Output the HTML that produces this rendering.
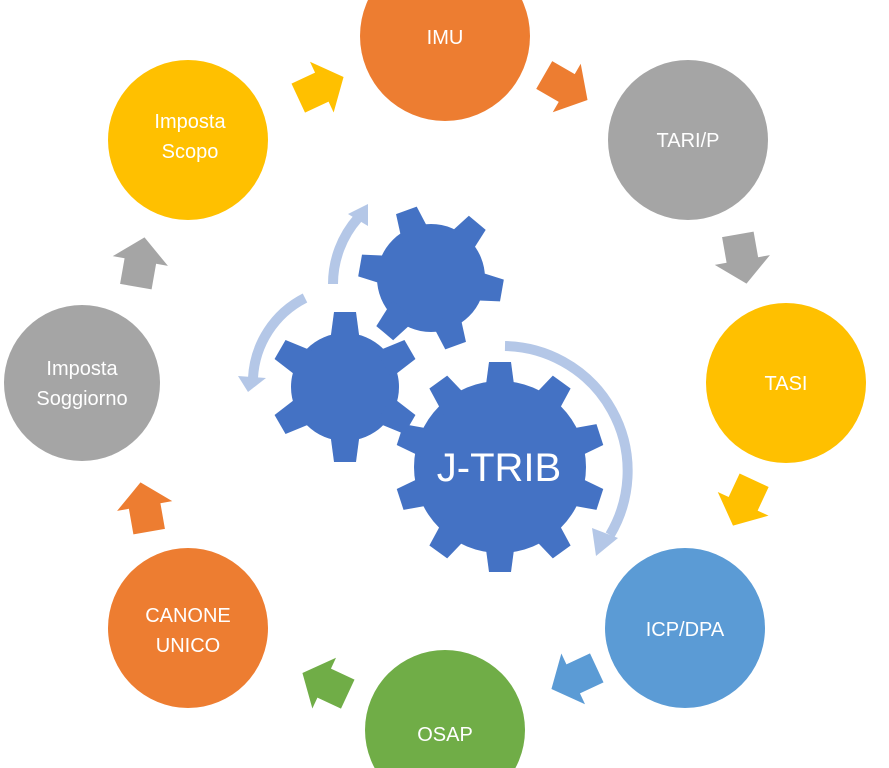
<!DOCTYPE html>
<html><head><meta charset="utf-8"><style>
html,body{margin:0;padding:0;background:#fff;width:889px;height:768px;overflow:hidden;}
svg{display:block;}
text{font-family:"Liberation Sans","DejaVu Sans",sans-serif;fill:#fff;}
</style></head><body>
<svg width="889" height="768" viewBox="0 0 889 768" xmlns="http://www.w3.org/2000/svg">
<defs>
<path id="ar" d="M-24,-16 L2,-16 L2,-28 L26,0 L2,28 L2,16 L-24,16 Z"/>
</defs>
<circle cx="445" cy="36" r="85" fill="#ED7D31"/>
<circle cx="688" cy="140" r="80" fill="#A5A5A5"/>
<circle cx="786" cy="383" r="80" fill="#FFC000"/>
<circle cx="685" cy="628" r="80" fill="#5B9BD5"/>
<circle cx="445" cy="730" r="80" fill="#70AD47"/>
<circle cx="188" cy="628" r="80" fill="#ED7D31"/>
<circle cx="82" cy="383" r="78" fill="#A5A5A5"/>
<circle cx="188" cy="140" r="80" fill="#FFC000"/>
<g font-size="20" text-anchor="middle">
<text x="445" y="44">IMU</text>
<text x="688" y="147">TARI/P</text>
<text x="786" y="390">TASI</text>
<text x="685" y="636">ICP/DPA</text>
<text x="445" y="741">OSAP</text>
<text x="188" y="622">CANONE</text>
<text x="188" y="652">UNICO</text>
<text x="82" y="375">Imposta</text>
<text x="82" y="405">Soggiorno</text>
<text x="190" y="128">Imposta</text>
<text x="190" y="158">Scopo</text>
</g>
<use href="#ar" fill="#FFC000" transform="translate(320,88) rotate(-25)"/>
<use href="#ar" fill="#ED7D31" transform="translate(565,87) rotate(30)"/>
<use href="#ar" fill="#A5A5A5" transform="translate(742,258) rotate(80)"/>
<use href="#ar" fill="#FFC000" transform="translate(744,502) rotate(115)"/>
<use href="#ar" fill="#5B9BD5" transform="translate(575,678) rotate(155)"/>
<use href="#ar" fill="#70AD47" transform="translate(326,684) rotate(205)"/>
<use href="#ar" fill="#ED7D31" transform="translate(145,508) rotate(-100)"/>
<use href="#ar" fill="#A5A5A5" transform="translate(140,263) rotate(-80)"/>
<g fill="none" stroke="#B4C7E7" stroke-width="10">
<path d="M505,346 A125,125 0 0 1 610,535"/>
<path d="M305,298 A95,95 0 0 0 253,378"/>
<path d="M333,284 A100,100 0 0 1 358,218"/>
</g>
<g fill="#B4C7E7">
<polygon points="596,556 592,528 618,538"/>
<polygon points="248,392 238,376 266,378"/>
<polygon points="368,204 348,214 368,226"/>
</g>
<g fill="#4472C4">
<circle cx="500" cy="467" r="86"/>
<g transform="rotate(0 500 467)"><polygon points="489,362 511,362 515,392 485,392"/></g>
<g transform="rotate(36 500 467)"><polygon points="489,362 511,362 515,392 485,392"/></g>
<g transform="rotate(72 500 467)"><polygon points="489,362 511,362 515,392 485,392"/></g>
<g transform="rotate(108 500 467)"><polygon points="489,362 511,362 515,392 485,392"/></g>
<g transform="rotate(144 500 467)"><polygon points="489,362 511,362 515,392 485,392"/></g>
<g transform="rotate(180 500 467)"><polygon points="489,362 511,362 515,392 485,392"/></g>
<g transform="rotate(216 500 467)"><polygon points="489,362 511,362 515,392 485,392"/></g>
<g transform="rotate(252 500 467)"><polygon points="489,362 511,362 515,392 485,392"/></g>
<g transform="rotate(288 500 467)"><polygon points="489,362 511,362 515,392 485,392"/></g>
<g transform="rotate(324 500 467)"><polygon points="489,362 511,362 515,392 485,392"/></g>

<circle cx="345" cy="387" r="54"/>
<g transform="rotate(0 345 387)"><polygon points="334,312 356,312 360,342 330,342"/></g>
<g transform="rotate(60 345 387)"><polygon points="334,312 356,312 360,342 330,342"/></g>
<g transform="rotate(120 345 387)"><polygon points="334,312 356,312 360,342 330,342"/></g>
<g transform="rotate(180 345 387)"><polygon points="334,312 356,312 360,342 330,342"/></g>
<g transform="rotate(240 345 387)"><polygon points="334,312 356,312 360,342 330,342"/></g>
<g transform="rotate(300 345 387)"><polygon points="334,312 356,312 360,342 330,342"/></g>

<circle cx="431" cy="278" r="54"/>
<g transform="rotate(-20 431 278)"><polygon points="420,206 442,206 446,236 416,236"/></g>
<g transform="rotate(40 431 278)"><polygon points="420,206 442,206 446,236 416,236"/></g>
<g transform="rotate(100 431 278)"><polygon points="420,206 442,206 446,236 416,236"/></g>
<g transform="rotate(160 431 278)"><polygon points="420,206 442,206 446,236 416,236"/></g>
<g transform="rotate(220 431 278)"><polygon points="420,206 442,206 446,236 416,236"/></g>
<g transform="rotate(280 431 278)"><polygon points="420,206 442,206 446,236 416,236"/></g>
</g>
<text x="499" y="481" font-size="40" text-anchor="middle">J-TRIB</text>
</svg>
</body></html>
